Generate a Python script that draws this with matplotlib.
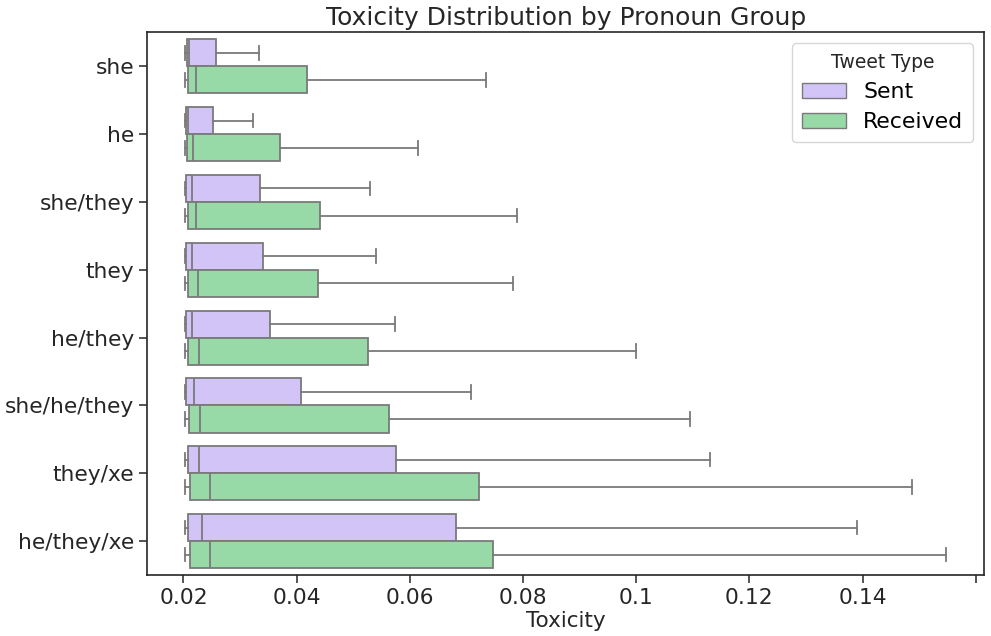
import colorsys
import numpy as np
import matplotlib
matplotlib.use('Agg')
import matplotlib.pyplot as plt
from matplotlib.patches import Patch

# box stats (no fliers shown)
groups = ['she', 'he', 'she/they', 'they', 'he/they', 'she/he/they', 'they/xe', 'he/they/xe']

sent_whislo = [0.0202, 0.0202, 0.0202, 0.0202, 0.0202, 0.0202, 0.0202, 0.0202]
sent_q1 = [0.0206, 0.0205, 0.0205, 0.0205, 0.0205, 0.0205, 0.0208, 0.0208]
sent_med = [0.0209, 0.0208, 0.0215, 0.0215, 0.0215, 0.0218, 0.0228, 0.0232]
sent_q3 = [0.0257, 0.0252, 0.0335, 0.0340, 0.0352, 0.0407, 0.0576, 0.0681]
sent_whishi = [0.0333, 0.0322, 0.0529, 0.0540, 0.0573, 0.0708, 0.1130, 0.1391]

recv_whislo = [0.0202, 0.0202, 0.0202, 0.0202, 0.0202, 0.0203, 0.0202, 0.0202]
recv_q1 = [0.0208, 0.0206, 0.0208, 0.0208, 0.0208, 0.0209, 0.0211, 0.0211]
recv_med = [0.0223, 0.0216, 0.0222, 0.0226, 0.0227, 0.0230, 0.0246, 0.0246]
recv_q3 = [0.0418, 0.0370, 0.0441, 0.0437, 0.0526, 0.0563, 0.0722, 0.0747]
recv_whishi = [0.0734, 0.0614, 0.0789, 0.0782, 0.1000, 0.1095, 0.1488, 0.1547]

hue_names = ['Sent', 'Received']
xtick_vals = [0.02, 0.04, 0.06, 0.08, 0.10, 0.12, 0.14, 0.16]
xtick_labels = ['0.02', '0.04', '0.06', '0.08', '0.1', '0.12', '0.14', '']


def desaturate(hexcol, prop=0.75):
    r, g, b = matplotlib.colors.to_rgb(hexcol)
    h, l, s = colorsys.rgb_to_hls(r, g, b)
    return colorsys.hls_to_rgb(h, l, s * prop)


colors = [desaturate('#d0bbff'), desaturate('#8de5a1')]
edge = '#7a7a7a'


def make_stats(lo, q1, med, q3, hi):
    stats = []
    for i in range(len(lo)):
        stats.append({'whislo': lo[i], 'q1': q1[i], 'med': med[i], 'q3': q3[i], 'whishi': hi[i]})
    return stats


fig = plt.figure(figsize=(9.91, 6.36), dpi=100)
ax = fig.add_axes([0.1486, 0.0959, 0.8446, 0.8531])

all_stats = [make_stats(sent_whislo, sent_q1, sent_med, sent_q3, sent_whishi),
             make_stats(recv_whislo, recv_q1, recv_med, recv_q3, recv_whishi)]
offsets = [-0.2, 0.2]
pos = np.arange(len(groups))

lw = 1.3
for k in range(2):
    ax.bxp(all_stats[k], positions=pos + offsets[k], widths=0.4, vert=False,
           patch_artist=True, showfliers=False, manage_ticks=False,
           boxprops=dict(facecolor=colors[k], edgecolor=edge, linewidth=lw),
           medianprops=dict(color=edge, linewidth=lw),
           whiskerprops=dict(color=edge, linewidth=lw),
           capprops=dict(color=edge, linewidth=lw))

ax.set_ylim(len(groups) - 0.5, -0.5)
ax.set_yticks(pos)
ax.set_yticklabels(groups)
ax.set_xlim(0.0136, 0.1615)
ax.set_xticks(xtick_vals)
ax.set_xticklabels(xtick_labels)

ax.tick_params(axis='both', labelsize=15.7, colors='#262626', length=6, width=1.1)
for sp in ax.spines.values():
    sp.set_color('#262626')
    sp.set_linewidth(1.2)

ax.set_xlabel('Toxicity', fontsize=15.5, color='#262626', labelpad=2)
ax.set_title('Toxicity Distribution by Pronoun Group', fontsize=18, color='#262626', pad=5)

handles = [Patch(facecolor=colors[k], edgecolor=edge, linewidth=1.0) for k in range(2)]
leg = ax.legend(handles, hue_names, title='Tweet Type', loc='upper right',
                fontsize=15.8, title_fontsize=13.5, borderpad=0.45,
                labelspacing=0.45, handlelength=2.0)
leg.get_title().set_color('#262626')

fig.savefig('out.png', dpi=100)
